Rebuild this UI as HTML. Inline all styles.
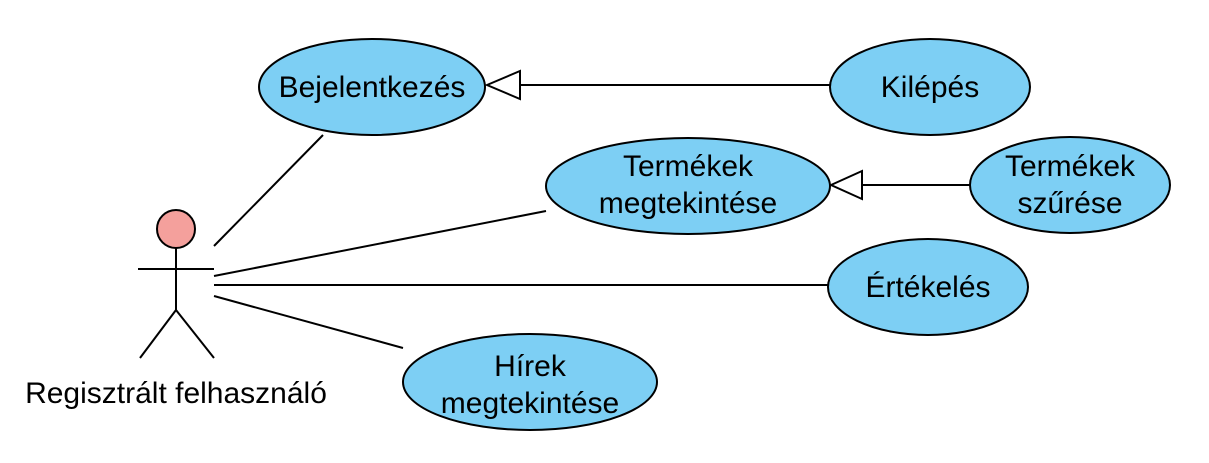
<!DOCTYPE html>
<html><head><meta charset="utf-8"><style>
html,body{margin:0;padding:0;background:#fff;}
svg{display:block;}
text{font-family:"Liberation Sans",Arial,sans-serif;font-size:30px;fill:#000;}
</style></head><body>
<svg width="1209" height="463" viewBox="0 0 1209 463" xmlns="http://www.w3.org/2000/svg">
<g stroke="#000" stroke-width="2" fill="none">
<line x1="214" y1="246" x2="323" y2="135"/>
<line x1="214" y1="276" x2="546" y2="211"/>
<line x1="214" y1="285" x2="828" y2="285"/>
<line x1="214" y1="296" x2="403" y2="348"/>
<line x1="830" y1="85" x2="520" y2="85"/>
<polygon points="487,85 520,71 520,99" fill="#fff"/>
<line x1="970" y1="185" x2="862" y2="185"/>
<polygon points="831,185 862,171 862,199" fill="#fff"/>
</g>
<g stroke="#000" stroke-width="2" fill="#7dcff4">
<ellipse cx="372" cy="87" rx="113" ry="48"/>
<ellipse cx="930" cy="87" rx="100" ry="48"/>
<ellipse cx="688" cy="186" rx="142" ry="48"/>
<ellipse cx="1070" cy="185" rx="100" ry="48"/>
<ellipse cx="928" cy="287" rx="100" ry="48"/>
<ellipse cx="530" cy="382" rx="127" ry="48"/>
</g>
<g stroke="#000" stroke-width="2" fill="none">
<circle cx="176" cy="229" r="19" fill="#f4a09c"/>
<line x1="176" y1="248" x2="176" y2="310"/>
<line x1="138" y1="269" x2="214" y2="269"/>
<line x1="176" y1="310" x2="140" y2="358"/>
<line x1="176" y1="310" x2="214" y2="358"/>
</g>
<g text-anchor="middle" textLength="">
<text x="372" y="97">Bejelentkezés</text>
<text x="930" y="97">Kilépés</text>
<text x="688" y="176">Termékek</text>
<text x="688" y="213">megtekintése</text>
<text x="1070" y="176">Termékek</text>
<text x="1070" y="213">szűrése</text>
<text x="928" y="297">Értékelés</text>
<text x="530" y="376">Hírek</text>
<text x="530" y="413">megtekintése</text>
<text x="176" y="403">Regisztrált felhasználó</text>
</g>
</svg>
</body></html>
